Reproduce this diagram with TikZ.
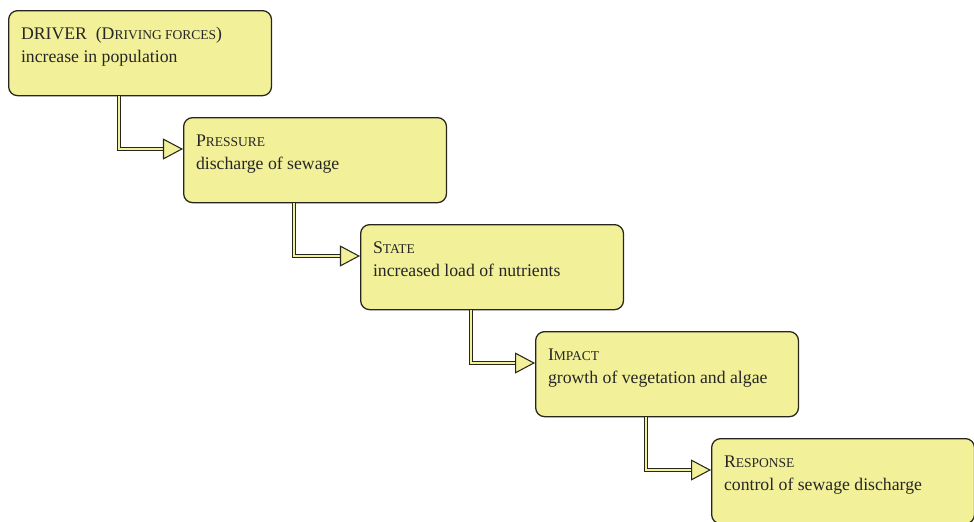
\documentclass[tikz,border=0pt]{standalone}
\usepackage{fontspec}
\setmainfont{Liberation Serif}
\usepackage{xcolor}
\usepackage{tikz}
\usetikzlibrary{calc,arrows.meta}

\definecolor{boxfill}{RGB}{242,240,152}
\definecolor{boxline}{RGB}{38,38,30}
\newcommand{\fsc}[1]{{\fontsize{9.6}{10}\selectfont #1}}
\newcommand{\boxtext}[2]{\parbox[c][1.875cm][t]{5.95cm}{\vspace*{0.3cm}#1\\#2}}
\tikzset{
  dpsirbox/.style={draw=boxline, fill=boxfill, line width=0.9pt, rounded corners=0.225cm,
    anchor=north west, inner xsep=0.31cm, inner ysep=0.125cm,
    font=\fontsize{12.6}{16.3}\selectfont, text=black!85},
  dpsirlink/.style={draw=boxline, line width=0.75pt, double=boxfill, double distance=1.4pt,
    -{Triangle[length=0.5cm, width=0.525cm, fill=boxfill]}}
}

\begin{document}
\begin{tikzpicture}[x=0.025cm, y=-0.025cm]
\useasboundingbox (0,0) rectangle (974,521);
\node[dpsirbox] (driver) at (8,10) {\boxtext{DRIVER\ \ (D\fsc{RIVING FORCES})}{increase in population}};
\node[dpsirbox] (pressure) at (183,117) {\boxtext{P\fsc{RESSURE}}{discharge of sewage}};
\node[dpsirbox] (state) at (360,224) {\boxtext{S\fsc{TATE}}{increased load of nutrients}};
\node[dpsirbox] (impact) at (535,331) {\boxtext{I\fsc{MPACT}}{growth of vegetation and algae}};
\node[dpsirbox] (response) at (711,438) {\boxtext{R\fsc{ESPONSE}}{control of sewage discharge}};
\draw[dpsirlink] ($(driver.south west)+(111,0)$) |- ($(pressure.north west)+(0,32)$);
\draw[dpsirlink] ($(pressure.south west)+(111,0)$) |- ($(state.north west)+(0,32)$);
\draw[dpsirlink] ($(state.south west)+(111,0)$) |- ($(impact.north west)+(0,32)$);
\draw[dpsirlink] ($(impact.south west)+(111,0)$) |- ($(response.north west)+(0,32)$);
\end{tikzpicture}
\end{document}
